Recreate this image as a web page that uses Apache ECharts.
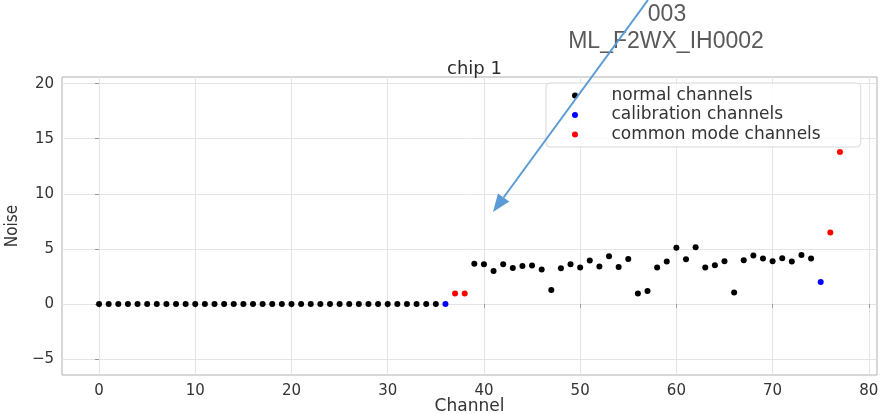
<!DOCTYPE html>
<html>
<head>
<meta charset="utf-8">
<script src="https://cdn.jsdelivr.net/npm/echarts@6/dist/echarts.min.js"></script>
<style>
  html, body { margin: 0; padding: 0; background: #fff; }
  #chart { width: 881px; height: 414px; }
</style>
</head>
<body>
<div id="chart"></div>
<script>
// channel numbers and noise
var normalChannels = [0, 1, 2, 3, 4, 5, 6, 7, 8, 9, 10, 11, 12, 13, 14, 15, 16, 17,
  18, 19, 20, 21, 22, 23, 24, 25, 26, 27, 28, 29, 30, 31, 32, 33, 34, 35,
  39, 40, 41, 42, 43, 44, 45, 46, 47, 48, 49, 50, 51, 52, 53, 54, 55, 56,
  57, 58, 59, 60, 61, 62, 63, 64, 65, 66, 67, 68, 69, 70, 71, 72, 73, 74]
var normalNoise = [0, 0, 0, 0, 0, 0, 0, 0, 0, 0, 0, 0, 0, 0, 0, 0, 0, 0,
  0, 0, 0, 0, 0, 0, 0, 0, 0, 0, 0, 0, 0, 0, 0, 0, 0, 0,
  3.64, 3.6, 3.0, 3.6, 3.27, 3.45, 3.48, 3.12, 1.27, 3.24, 3.6, 3.3, 3.94, 3.4, 4.33, 3.36, 4.09, 0.94,
  1.18, 3.3, 3.85, 5.09, 4.06, 5.15, 3.3, 3.52, 3.88, 1.03, 3.97, 4.4, 4.12, 3.88, 4.15, 3.85, 4.45, 4.12]
var calibChannels = [36, 75]
var calibNoise = [0, 2.0]
var cmChannels = [37, 38, 76, 77]
var cmNoise = [0.94, 0.94, 6.48, 13.8]
var xTicks = [0, 10, 20, 30, 40, 50, 60, 70, 80]
var yTicks = [-5, 0, 5, 10, 15, 20]

function pairs(xs, ys) {
  return xs.map(function (x, i) { return [x, ys[i]] })
}

var chart = echarts.init(document.getElementById('chart'))
var tickFont = { fontFamily: 'DejaVu Sans', fontSize: 15, color: '#333' }

var option = {
  animation: false,
  title: {
    text: 'chip 1',
    left: 469.5,
    textAlign: 'center',
    top: 55,
    textStyle: { fontFamily: 'DejaVu Sans', fontSize: 18, fontWeight: 'normal', color: '#2a2a2a' }
  },
  legend: {
    orient: 'vertical',
    left: 546,
    top: 83,
    padding: [3, 40, 3, 26],
    itemWidth: 63,
    itemHeight: 6,
    itemGap: 0.5,
    icon: 'circle',
    backgroundColor: 'rgba(255,255,255,0.85)',
    borderColor: '#d8d8d8',
    borderWidth: 1,
    borderRadius: 4,
    textStyle: { fontFamily: 'DejaVu Sans', fontSize: 17, color: '#333', lineHeight: 19 },
    data: ['normal channels', 'calibration channels', 'common mode channels']
  },
  grid: {
    left: 62, right: 4, top: 77, bottom: 39,
    outerBoundsMode: 'none',
    containLabel: false,
    show: true, borderColor: '#b0b0b0', borderWidth: 1
  },
  xAxis: {
    type: 'value',
    min: -3.85,
    max: 80.85,
    name: 'Channel',
    nameLocation: 'middle',
    nameGap: 23,
    nameMoveOverlap: false,
    nameTextStyle: { fontFamily: 'DejaVu Sans', fontSize: 17, color: '#333' },
    axisLine: { show: false },
    axisTick: { show: true, customValues: xTicks, length: 4, lineStyle: { color: '#999' } },
    axisLabel: Object.assign({ customValues: xTicks, margin: 9 }, tickFont),
    splitLine: { show: true, customValues: xTicks, lineStyle: { color: '#e4e4e4' } }
  },
  yAxis: {
    type: 'value',
    min: -6.45,
    max: 20.6,
    name: 'Noise',
    nameLocation: 'middle',
    nameGap: 41,
    nameTextStyle: { fontFamily: 'DejaVu Sans Condensed, Roboto', fontSize: 17, color: '#333' },
    axisLine: { show: false },
    axisTick: { show: true, customValues: yTicks, length: 4, lineStyle: { color: '#999' } },
    axisLabel: Object.assign({
      customValues: yTicks, margin: 8,
      formatter: function (v) { return String(v).replace('-', '\u2212') }
    }, tickFont),
    splitLine: { show: true, customValues: yTicks, lineStyle: { color: '#e4e4e4' } }
  },
  series: [
    {
      name: 'normal channels', type: 'scatter', symbolSize: 6,
      itemStyle: { color: '#000', opacity: 1 }, data: pairs(normalChannels, normalNoise)
    },
    {
      name: 'calibration channels', type: 'scatter', symbolSize: 6,
      itemStyle: { color: '#0000ff', opacity: 1 }, data: pairs(calibChannels, calibNoise)
    },
    {
      name: 'common mode channels', type: 'scatter', symbolSize: 6,
      itemStyle: { color: '#ff0000', opacity: 1 }, data: pairs(cmChannels, cmNoise)
    }
  ],
  graphic: [
    {
      type: 'text', x: 667, y: 15, z: 100,
      style: { text: '003', fontFamily: 'Liberation Sans', fontSize: 23, fill: '#5a5a5a', align: 'center', verticalAlign: 'middle' }
    },
    {
      type: 'text', x: 666, y: 42, z: 100,
      style: { text: 'ML_F2WX_IH0002', fontFamily: 'Liberation Sans', fontSize: 23, fill: '#5a5a5a', align: 'center', verticalAlign: 'middle' }
    },
    // the blue arrow drawn over the plot
    {
      type: 'line', z: 101,
      shape: { x1: 648, y1: 0, x2: 503.6, y2: 197.5 },
      style: { stroke: '#5b9bd5', lineWidth: 2 }
    },
    {
      type: 'polygon', z: 101,
      shape: { points: [[493, 212], [509.3, 201.6], [497.9, 193.4]] },
      style: { fill: '#5b9bd5' }
    }
  ]
}
chart.setOption(option)
</script>
</body>
</html>
